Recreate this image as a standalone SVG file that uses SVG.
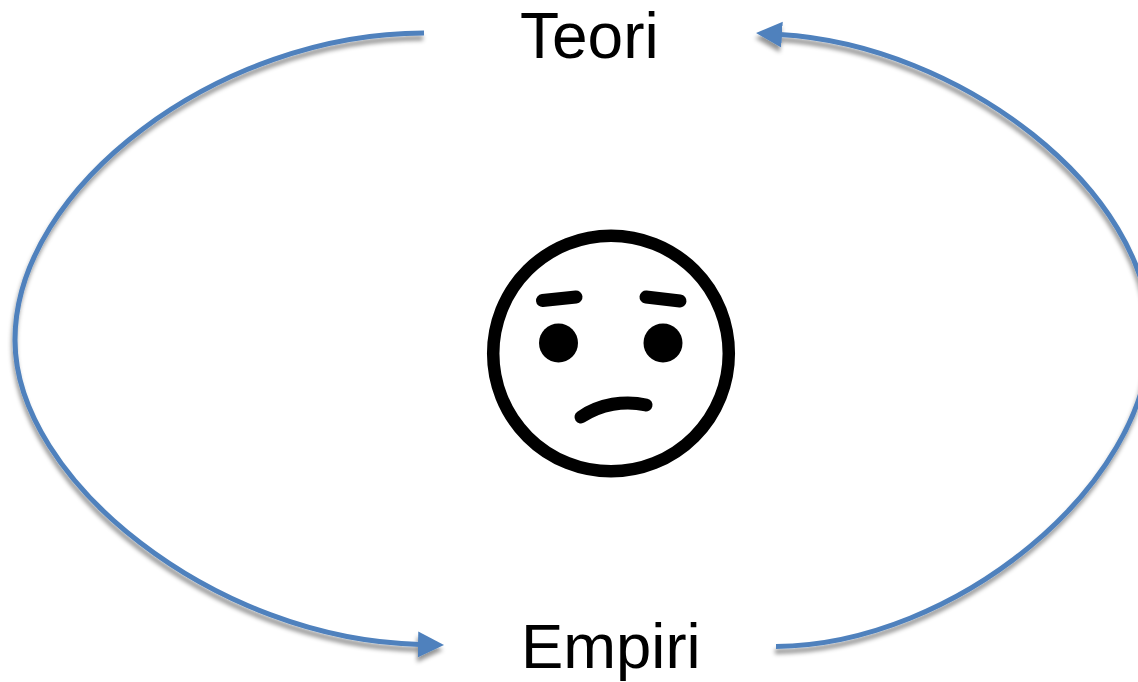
<svg xmlns="http://www.w3.org/2000/svg" width="1138" height="682" viewBox="0 0 1138 682">
<style>
text{font-family:"Liberation Sans",Arial,sans-serif;font-size:64px;fill:#000}
#empiri text{font-size:63.4px}
.conn{fill:none;stroke:#4f81bd;stroke-width:5;filter:url(#sh)}
.face{fill:none;stroke:#000;stroke-linecap:round;stroke-width:13}
</style>
<defs>
<filter id="sh" x="-10%" y="-10%" width="120%" height="120%"><feDropShadow dx="-1" dy="5" stdDeviation="2" flood-color="#000" flood-opacity="0.42"/></filter>
<marker id="ah" markerUnits="userSpaceOnUse" markerWidth="30" markerHeight="30" refX="2" refY="13" orient="auto"><path d="M0,0L26,13L0,26Z" fill="#4f81bd"/></marker>
</defs>
<rect width="1138" height="682" fill="#fff"/>
<g id="connectors">
<path class="conn" marker-end="url(#ah)" d="M424,33C219.5,33 15,186.5 15,340C15,480 215,640 420,644.5"/>
<path class="conn" marker-end="url(#ah)" d="M776,646.5C955,645 1150,485 1150,335C1150,190 960,45 780,34.5"/>
</g>
<g id="teori"><text x="520" y="58">Teori</text></g>
<g id="empiri"><text x="521" y="668">Empiri</text></g>
<g id="face">
<circle cx="611" cy="353.5" r="117.8" fill="#fff" stroke="#000" stroke-width="12.5"/>
<circle cx="558.5" cy="343" r="19.5"/>
<circle cx="663" cy="343" r="19.5"/>
<path class="face" d="M542.5,300.5L576,297"/>
<path class="face" d="M646,297L680,301"/>
<path class="face" d="M581,417C600,404 625,400 646,405"/>
</g>
</svg>
